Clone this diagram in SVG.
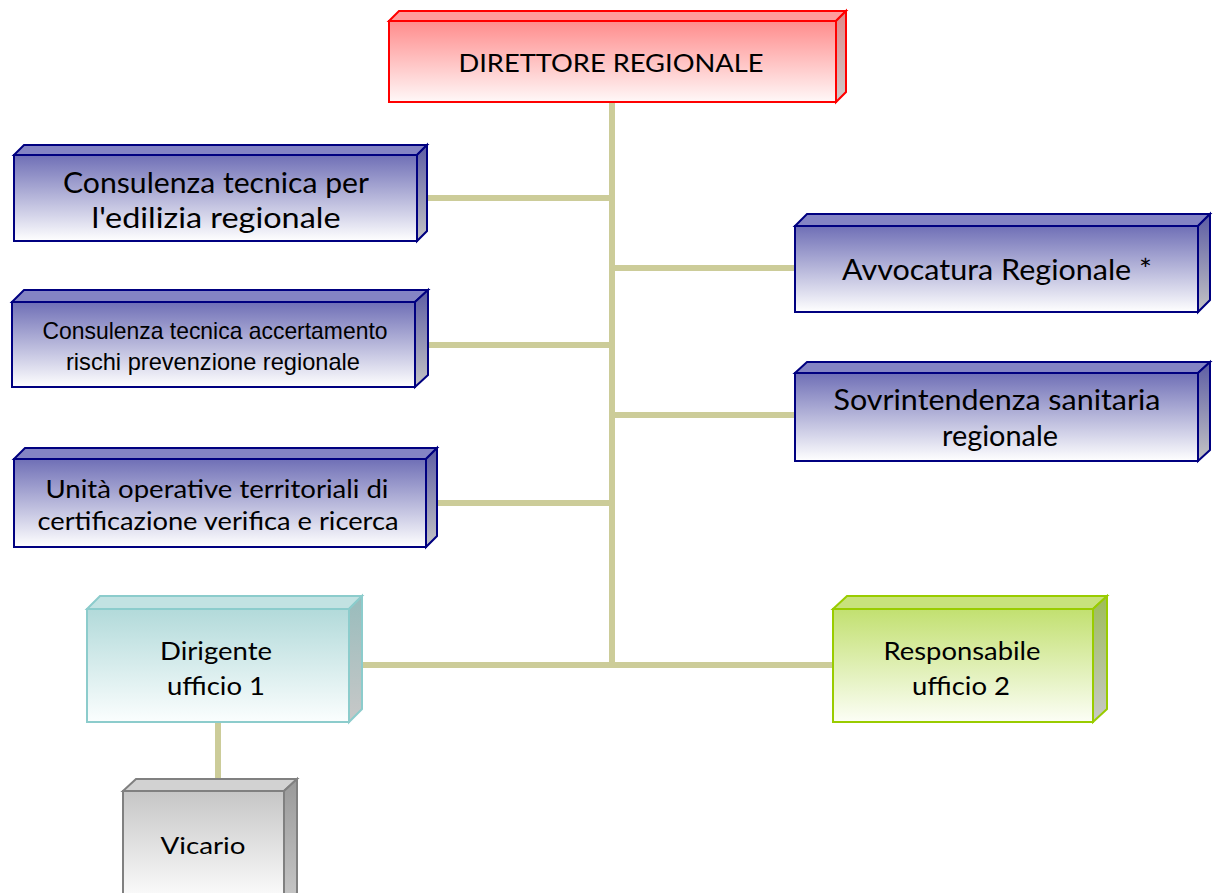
<svg xmlns="http://www.w3.org/2000/svg" width="1214" height="893" viewBox="0 0 1214 893">
  <defs>
    <!-- front faces: tinted at top fading to white -->
    <linearGradient id="fRed" x1="0" y1="0" x2="0" y2="1"><stop offset="0" stop-color="#ff8c8c"/><stop offset="1" stop-color="#fff8f8"/></linearGradient>
    <linearGradient id="fBlue" x1="0" y1="0" x2="0" y2="1"><stop offset="0" stop-color="#6f6fb6"/><stop offset="1" stop-color="#ffffff"/></linearGradient>
    <linearGradient id="fTeal" x1="0" y1="0" x2="0" y2="1"><stop offset="0" stop-color="#b2dada"/><stop offset="1" stop-color="#fbfefe"/></linearGradient>
    <linearGradient id="fGreen" x1="0" y1="0" x2="0" y2="1"><stop offset="0" stop-color="#c2e070"/><stop offset="1" stop-color="#fcfef6"/></linearGradient>
    <linearGradient id="fGray" x1="0" y1="0" x2="0" y2="1"><stop offset="0" stop-color="#c6c6c6"/><stop offset="1" stop-color="#ffffff"/></linearGradient>
    <!-- side faces: darker tint fading to grey -->
    <linearGradient id="sRed" x1="0" y1="0" x2="0" y2="1"><stop offset="0" stop-color="#e08888"/><stop offset="1" stop-color="#cccccc"/></linearGradient>
    <linearGradient id="sBlue" x1="0" y1="0" x2="0" y2="1"><stop offset="0" stop-color="#5c5ca4"/><stop offset="1" stop-color="#c4c4c4"/></linearGradient>
    <linearGradient id="sTeal" x1="0" y1="0" x2="0" y2="1"><stop offset="0" stop-color="#98bcbc"/><stop offset="1" stop-color="#c8c8c8"/></linearGradient>
    <linearGradient id="sGreen" x1="0" y1="0" x2="0" y2="1"><stop offset="0" stop-color="#9cbc58"/><stop offset="1" stop-color="#c8c8c8"/></linearGradient>
    <linearGradient id="sGray" x1="0" y1="0" x2="0" y2="1"><stop offset="0" stop-color="#999999"/><stop offset="1" stop-color="#c8c8c8"/></linearGradient>
  </defs>
  <style>
    .red{stroke:#ff0000;stroke-width:2}
    .blue{stroke:#000080;stroke-width:2}
    .teal{stroke:#8ccccc;stroke-width:2}
    .green{stroke:#99cc00;stroke-width:2}
    .gray{stroke:#808080;stroke-width:2}
    .red .front{fill:url(#fRed)} .red .top{fill:#ff9c9c} .red .side{fill:url(#sRed)}
    .blue .front{fill:url(#fBlue)} .blue .top{fill:#8484c4} .blue .side{fill:url(#sBlue)}
    .teal .front{fill:url(#fTeal)} .teal .top{fill:#c2e2e2} .teal .side{fill:url(#sTeal)}
    .green .front{fill:url(#fGreen)} .green .top{fill:#c8e27c} .green .side{fill:url(#sGreen)}
    .gray .front{fill:url(#fGray)} .gray .top{fill:#d2d2d2} .gray .side{fill:url(#sGray)}
    text{font-family:Lato,"Open Sans","Liberation Sans",sans-serif;fill:#000;stroke:none;text-anchor:middle}
    .narrow{font-family:"Liberation Sans Narrow","Liberation Sans",Arial,sans-serif}
    .conn line{stroke:#cccc99;stroke-width:6;fill:none}
  </style>

  <!-- connectors -->
  <g id="connectors" class="conn">
    <line x1="612" y1="102" x2="612" y2="668"/>
    <line x1="427" y1="198" x2="612" y2="198"/>
    <line x1="612" y1="268" x2="795" y2="268"/>
    <line x1="428" y1="345" x2="612" y2="345"/>
    <line x1="612" y1="415" x2="795" y2="415"/>
    <line x1="437" y1="503" x2="612" y2="503"/>
    <line x1="362" y1="665" x2="833" y2="665"/>
    <line x1="218" y1="722" x2="218" y2="779"/>
  </g>

  <!-- DIRETTORE REGIONALE -->
  <g id="direttore" class="red">
    <polygon class="top" points="389,21 399,11 846,11 836,21"/>
    <polygon class="side" points="836,21 846,11 846,92 836,102"/>
    <rect class="front" x="389" y="21" width="447" height="81"/>
    <text x="611" y="72" font-size="25" textLength="305" lengthAdjust="spacingAndGlyphs">DIRETTORE REGIONALE</text>
  </g>

  <!-- Consulenza tecnica per l'edilizia regionale -->
  <g id="consulenza-edilizia" class="blue">
    <polygon class="top" points="14,155 24,145 427,145 417,155"/>
    <polygon class="side" points="417,155 427,145 427,231 417,241"/>
    <rect class="front" x="14" y="155" width="403" height="86"/>
    <text x="216" y="193" font-size="28" textLength="306" lengthAdjust="spacingAndGlyphs">Consulenza tecnica per</text>
    <text x="216" y="228" font-size="28" textLength="249" lengthAdjust="spacingAndGlyphs">l'edilizia regionale</text>
  </g>

  <!-- Consulenza tecnica accertamento rischi -->
  <g id="consulenza-rischi" class="blue">
    <polygon class="top" points="12,302 24,290 428,290 415,302"/>
    <polygon class="side" points="415,302 428,290 428,375 415,387"/>
    <rect class="front" x="12" y="302" width="403" height="85"/>
    <text class="narrow" x="215" y="339" font-size="24" textLength="345" lengthAdjust="spacingAndGlyphs">Consulenza  tecnica  accertamento</text>
    <text class="narrow" x="213" y="370" font-size="24" textLength="294" lengthAdjust="spacingAndGlyphs">rischi  prevenzione regionale</text>
  </g>

  <!-- Unità operative territoriali -->
  <g id="unita-operative" class="blue">
    <polygon class="top" points="14,459 25,448 437,448 426,459"/>
    <polygon class="side" points="426,459 437,448 437,536 426,547"/>
    <rect class="front" x="14" y="459" width="412" height="88"/>
    <text x="217" y="498" font-size="25" textLength="343" lengthAdjust="spacingAndGlyphs">Unità operative territoriali di</text>
    <text x="218" y="530" font-size="25" textLength="361" lengthAdjust="spacingAndGlyphs">certificazione verifica e ricerca</text>
  </g>

  <!-- Avvocatura Regionale -->
  <g id="avvocatura" class="blue">
    <polygon class="top" points="795,226 807,214 1210,214 1198,226"/>
    <polygon class="side" points="1198,226 1210,214 1210,300 1198,312"/>
    <rect class="front" x="795" y="226" width="403" height="86"/>
    <text x="997" y="280" font-size="28" textLength="310" lengthAdjust="spacingAndGlyphs">Avvocatura Regionale *</text>
  </g>

  <!-- Sovrintendenza sanitaria regionale -->
  <g id="sovrintendenza" class="blue">
    <polygon class="top" points="795,373 807,362 1210,362 1198,373"/>
    <polygon class="side" points="1198,373 1210,362 1210,450 1198,461"/>
    <rect class="front" x="795" y="373" width="403" height="88"/>
    <text x="997" y="410" font-size="28" textLength="327" lengthAdjust="spacingAndGlyphs">Sovrintendenza sanitaria</text>
    <text x="1000" y="446" font-size="28" textLength="116" lengthAdjust="spacingAndGlyphs">regionale</text>
  </g>

  <!-- Dirigente ufficio 1 -->
  <g id="dirigente" class="teal">
    <polygon class="top" points="87,609 100,596 362,596 349,609"/>
    <polygon class="side" points="349,609 362,596 362,709 349,722"/>
    <rect class="front" x="87" y="609" width="262" height="113"/>
    <text x="216" y="660" font-size="25" textLength="112" lengthAdjust="spacingAndGlyphs">Dirigente</text>
    <text x="216" y="695" font-size="25" textLength="98" lengthAdjust="spacingAndGlyphs">ufficio  1</text>
  </g>

  <!-- Responsabile ufficio 2 -->
  <g id="responsabile" class="green">
    <polygon class="top" points="833,609 847,596 1107,596 1093,609"/>
    <polygon class="side" points="1093,609 1107,596 1107,709 1093,722"/>
    <rect class="front" x="833" y="609" width="260" height="113"/>
    <text x="962" y="660" font-size="25" textLength="157" lengthAdjust="spacingAndGlyphs">Responsabile</text>
    <text x="961" y="695" font-size="25" textLength="98" lengthAdjust="spacingAndGlyphs">ufficio  2</text>
  </g>

  <!-- Vicario -->
  <g id="vicario" class="gray">
    <polygon class="top" points="123,791 136,779 297,779 284,791"/>
    <polygon class="side" points="284,791 297,779 297,893 284,905"/>
    <rect class="front" x="123" y="791" width="161" height="114"/>
    <text x="203" y="854" font-size="24" textLength="85" lengthAdjust="spacingAndGlyphs">Vicario</text>
  </g>
</svg>
